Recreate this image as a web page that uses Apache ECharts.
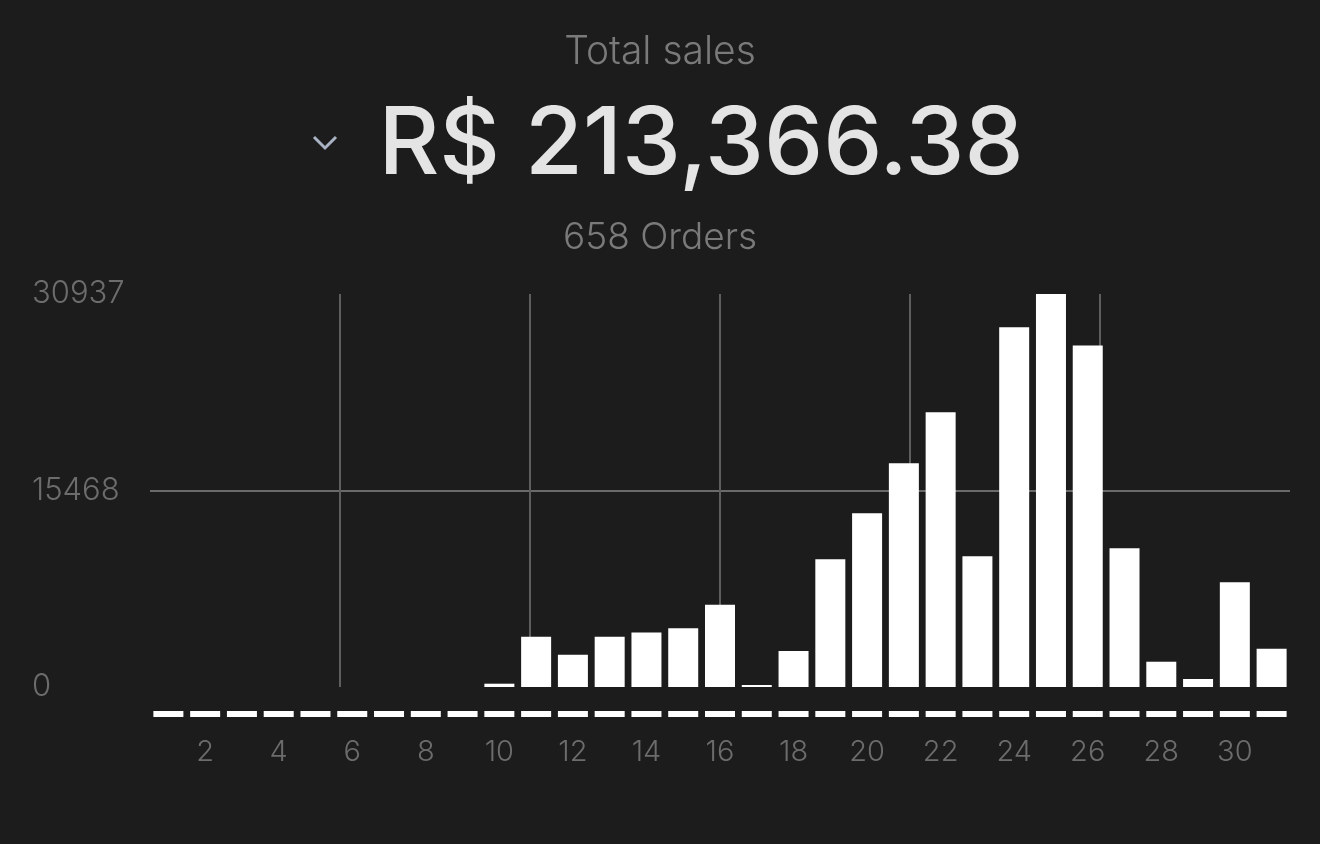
<!DOCTYPE html>
<html>
<head>
<meta charset="utf-8">
<script src="https://cdn.jsdelivr.net/npm/echarts@6/dist/echarts.min.js"></script>
<style>
html,body{margin:0;padding:0;background:#1c1c1c;}
#chart{width:1320px;height:844px;}
</style>
</head>
<body>
<div id="chart"></div>
<script>
const titleText = "Total sales";
const totalText = "R$ 213,366.38";
const ordersText = "658 Orders";
const days = ["1","2","3","4","5","6","7","8","9","10","11","12","13","14","15","16","17","18","19","20","21","22","23","24","25","26","27","28","29","30","31"];
const sales = [0,0,0,0,0,0,0,0,0,260,3955,2540,3955,4300,4615,6470,157,2830,10063,13680,17611,21620,10300,28327,30937,26888,10928,1990,629,8255,3011];
const yTickLabels = ["0","15468","30937"];
const yMax = 30937;

const chart = echarts.init(document.getElementById('chart'), null, {renderer:'canvas'});
const catW = 1140 / days.length;
const barW = 30;
chart.setOption({
  backgroundColor: '#1c1c1c',
  animation: false,
  textStyle: {fontFamily: 'Inter'},
  title: [
    {text: titleText, left: 'center', top: 28, textStyle: {color: '#7a7a7a', fontSize: 39, fontWeight: 300, fontFamily: 'Inter'}},
    {text: totalText, left: 696, top: 94, textAlign: 'center', textStyle: {color: '#e4e4e4', fontSize: 94, fontWeight: 500, fontFamily: 'Inter'}},
    {text: ordersText, left: 'center', top: 214, textStyle: {color: '#7a7a7a', fontSize: 37, fontWeight: 300, fontFamily: 'Inter'}}
  ],
  graphic: [
    {type: 'polyline', shape: {points: [[314, 137], [325, 148], [336, 137]]}, style: {stroke: '#a9b3c4', lineWidth: 3, fill: null}}
  ],
  grid: {left: 150, right: 30, top: 294, bottom: 157},
  xAxis: [
    {
      type: 'category', data: days, offset: 27,
      axisTick: {show: false},
      axisLine: {show: true, onZero: false, lineStyle: {color: '#ffffff', width: 6, cap: 'butt', type: [barW, catW - barW], dashOffset: barW + (catW - barW) / 2}},
      axisLabel: {color: '#6c6c6c', fontSize: 29, margin: 24, fontFamily: 'Inter', fontWeight: 300, interval: (i) => i % 2 === 1}
    },
    {
      type: 'value', position: 'top', min: 0, max: 6, interval: 1,
      axisLine: {show: false}, axisTick: {show: false}, axisLabel: {show: false},
      splitLine: {show: true, showMinLine: false, showMaxLine: false, lineStyle: {color: '#5e5e5e', width: 2}}
    }
  ],
  yAxis: {
    type: 'value', min: 0, max: yMax, interval: yMax / 2,
    axisLine: {show: false}, axisTick: {show: false},
    axisLabel: {color: '#6c6c6c', fontSize: 31, fontFamily: 'Inter', fontWeight: 300, align: 'left', margin: 118,
      formatter: (v, i) => yTickLabels[i]},
    splitLine: {show: true, showMinLine: false, showMaxLine: false, lineStyle: {color: '#6a6a6a', width: 2}}
  },
  series: [{
    type: 'bar', data: sales, barWidth: barW, xAxisIndex: 0,
    itemStyle: {color: '#ffffff'}
  }]
});
</script>
</body>
</html>
